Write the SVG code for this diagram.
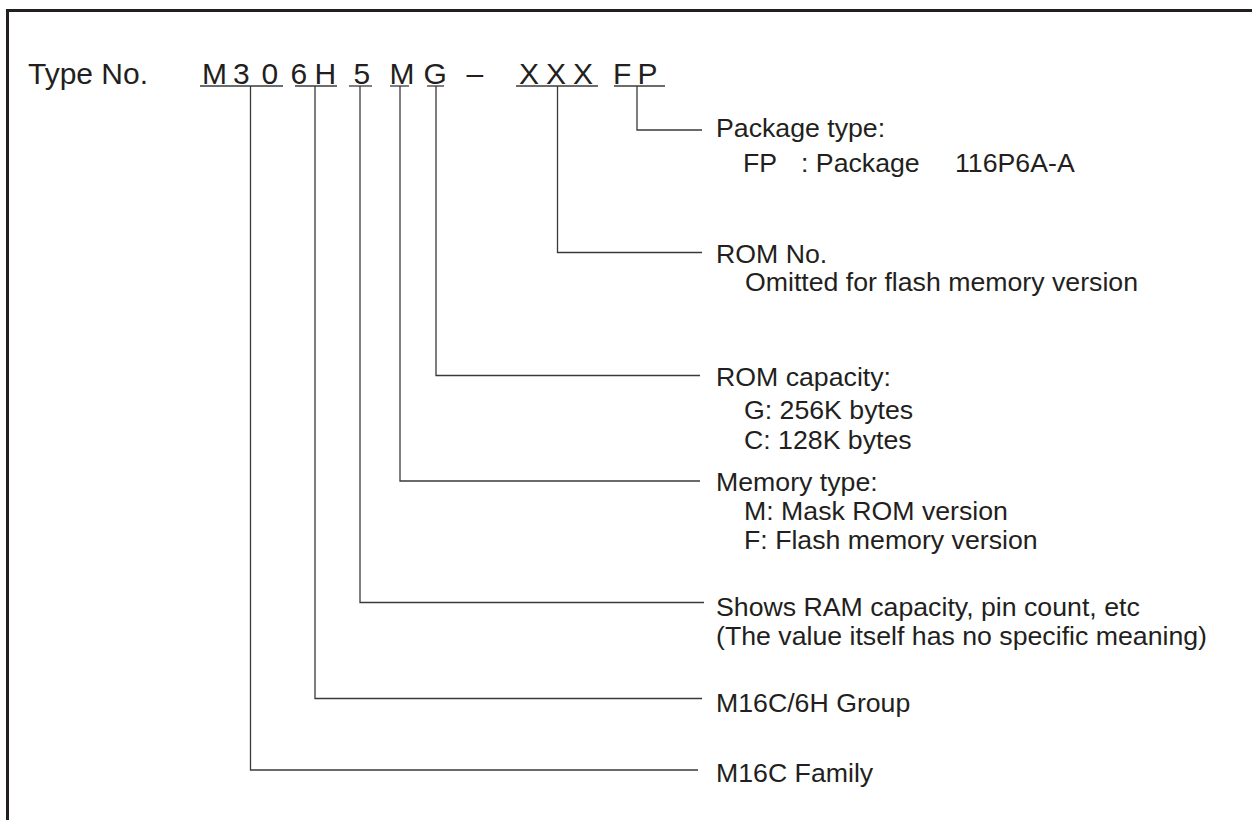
<svg xmlns="http://www.w3.org/2000/svg" width="1252" height="820" viewBox="0 0 1252 820">
<style>
  .t { font-family: "Liberation Sans", Arial, sans-serif; font-size: 26.7px; fill: #231f20; }
  .code { font-family: "Liberation Sans", Arial, sans-serif; font-size: 30px; fill: #231f20; }
  .ln { fill: none; stroke: #3a3a3a; stroke-width: 1.3; }
  .frame { fill: none; stroke: #231f20; stroke-width: 3; }
</style>
<rect width="1252" height="820" fill="#ffffff"/>
<path class="frame" d="M7.5,820 V10.5 H1252"/>

<g id="title">
  <text class="code" x="28" y="83.5">Type No.</text>
</g>
<g id="code-m30">
  <text class="code" x="202 233 261.5" y="83.5">M30</text>
  <line class="ln" x1="200" y1="86" x2="283" y2="86"/>
</g>
<g id="code-6h">
  <text class="code" x="290.5 314.5" y="83.5">6H</text>
  <line class="ln" x1="295" y1="86" x2="337" y2="86"/>
</g>
<g id="code-5">
  <text class="code" x="353.5" y="83.5">5</text>
  <line class="ln" x1="349" y1="86" x2="372" y2="86"/>
</g>
<g id="code-m">
  <text class="code" x="389.5" y="83.5">M</text>
  <line class="ln" x1="390" y1="86" x2="409" y2="86"/>
</g>
<g id="code-g">
  <text class="code" x="423.5" y="83.5">G</text>
  <line class="ln" x1="427" y1="86" x2="444" y2="86"/>
</g>
<g id="code-dash">
  <text class="code" x="466.5" y="83.5">–</text>
</g>
<g id="code-xxx">
  <text class="code" x="519 546 573" y="83.5">XXX</text>
  <line class="ln" x1="516" y1="86" x2="598" y2="86"/>
</g>
<g id="code-fp">
  <text class="code" x="613 637.5" y="83.5">FP</text>
  <line class="ln" x1="614" y1="86" x2="665" y2="86"/>
</g>

<g id="connectors">
  <path class="ln" d="M637,86 V130 H702"/>
  <path class="ln" d="M557.5,86 V252.5 H702"/>
  <path class="ln" d="M436,86 V375.5 H700"/>
  <path class="ln" d="M400,86 V481 H700"/>
  <path class="ln" d="M360,86 V602.5 H704"/>
  <path class="ln" d="M315,86 V698.5 H702"/>
  <path class="ln" d="M250.5,86 V770 H698"/>
</g>

<g id="label-package">
  <text class="t" x="716" y="137">Package type:</text>
  <text class="t" y="171.5"><tspan x="743">FP</tspan><tspan x="801">: Package</tspan><tspan x="955">116P6A-A</tspan></text>
</g>
<g id="label-romno">
  <text class="t" x="716" y="262.5">ROM No.</text>
  <text class="t" x="745" y="291">Omitted for flash memory version</text>
</g>
<g id="label-romcap">
  <text class="t" x="716" y="386">ROM capacity:</text>
  <text class="t" x="744" y="419">G: 256K bytes</text>
  <text class="t" x="744" y="449">C: 128K bytes</text>
</g>
<g id="label-memtype">
  <text class="t" x="716" y="491">Memory type:</text>
  <text class="t" x="744" y="519.5">M: Mask ROM version</text>
  <text class="t" x="744" y="548.5">F: Flash memory version</text>
</g>
<g id="label-ram">
  <text class="t" x="716" y="616">Shows RAM capacity, pin count, etc</text>
  <text class="t" x="716" y="645">(The value itself has no specific meaning)</text>
</g>
<g id="label-group">
  <text class="t" x="716" y="711.5">M16C/6H Group</text>
</g>
<g id="label-family">
  <text class="t" x="716" y="781.5">M16C Family</text>
</g>
</svg>
